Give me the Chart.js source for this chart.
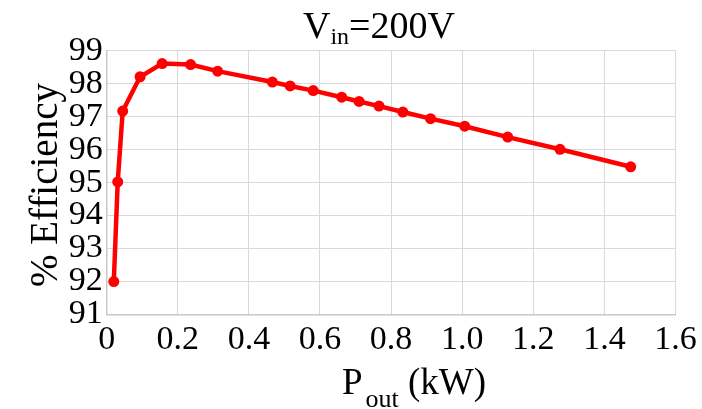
<!DOCTYPE html>
<html>
<head>
<meta charset="utf-8">
<script src="https://cdn.jsdelivr.net/npm/chart.js@4.4.1/dist/chart.umd.min.js"></script>
<style>
  html, body { margin: 0; padding: 0; background: #ffffff; }
  #wrap { width: 702px; height: 409px; position: relative; }
</style>
</head>
<body>
<div id="wrap"><canvas id="c" width="702" height="409"></canvas></div>
<script>
// Output power (kW)
const powerKW = [0.020, 0.031, 0.045, 0.094, 0.156, 0.236, 0.312, 0.466, 0.516, 0.581, 0.661, 0.710, 0.766, 0.833, 0.911, 1.007, 1.128, 1.275, 1.474];
// Efficiency (%)
const efficiency = [92.0, 95.02, 97.17, 98.21, 98.61, 98.58, 98.38, 98.05, 97.93, 97.79, 97.59, 97.46, 97.32, 97.14, 96.94, 96.71, 96.38, 96.01, 95.48];
// Tick labels
const xTickValues = [0, 0.2, 0.4, 0.6, 0.8, 1.0, 1.2, 1.4, 1.6];
const xTickLabels = ["0", "0.2", "0.4", "0.6", "0.8", "1.0", "1.2", "1.4", "1.6"];
const yTickValues = [91, 92, 93, 94, 95, 96, 97, 98, 99];
const yTickLabels = ["91", "92", "93", "94", "95", "96", "97", "98", "99"];
// Texts
const titleMain = "V", titleSub = "in", titleRest = "=200V";
const xTitleMain = "P", xTitleSub = "out", xTitleRest = " (kW)";
const yTitle = "% Efficiency";

const FONT = "'Liberation Serif', serif";
Chart.defaults.font.family = FONT;

function drawSub(ctx, parts, cx, baseline) {
  let total = 0;
  parts.forEach(p => { ctx.font = p.size + 'px ' + FONT; p.w = ctx.measureText(p.text).width; total += p.w + (p.gap || 0); });
  let x = cx - total / 2;
  ctx.textAlign = 'left';
  ctx.textBaseline = 'alphabetic';
  parts.forEach(p => {
    ctx.font = p.size + 'px ' + FONT;
    ctx.fillText(p.text, x, baseline + (p.dy || 0));
    x += p.w + (p.gap || 0);
  });
}

const textPlugin = {
  id: 'texts',
  afterDraw(chart) {
    const ctx = chart.ctx;
    ctx.save();
    ctx.fillStyle = '#000000';
    drawSub(ctx, [
      {text: titleMain, size: 38},
      {text: titleSub, size: 24, dy: 6},
      {text: titleRest, size: 38}
    ], 379, 37.5);
    drawSub(ctx, [
      {text: xTitleMain, size: 37, gap: 3},
      {text: xTitleSub, size: 26, dy: 13},
      {text: xTitleRest, size: 37}
    ], 414, 394.3);
    ctx.translate(57, 185);
    ctx.rotate(-Math.PI / 2);
    ctx.font = '39px ' + FONT;
    ctx.textAlign = 'center';
    ctx.textBaseline = 'alphabetic';
    ctx.fillText(yTitle, 0, 0);
    ctx.restore();
  }
};

const points = powerKW.map((p, i) => ({x: p, y: efficiency[i]}));

new Chart(document.getElementById('c'), {
  type: 'scatter',
  data: {
    datasets: [{
      data: points,
      showLine: true,
      borderColor: '#ff0000',
      backgroundColor: '#ff0000',
      borderWidth: 4.5,
      pointRadius: 5.5,
      pointHoverRadius: 5.5,
      pointBorderWidth: 0,
      tension: 0
    }]
  },
  options: {
    responsive: false,
    animation: false,
    devicePixelRatio: 1,
    layout: { padding: { left: 0, right: 26.5, top: 50.7, bottom: 0 } },
    plugins: { legend: { display: false }, tooltip: { enabled: false }, title: { display: false } },
    scales: {
      x: {
        type: 'linear',
        min: 0, max: 1.6,
        afterBuildTicks(s) { s.ticks = xTickValues.map(v => ({value: v})); },
        afterFit(s) { s.height = 94.5; },
        ticks: {
          color: '#000000',
          font: { family: FONT, size: 34 },
          padding: 5,
          maxRotation: 0,
          autoSkip: false,
          callback(v) { const i = xTickValues.findIndex(t => Math.abs(t - v) < 1e-6); return i >= 0 ? xTickLabels[i] : ''; }
        },
        grid: { color: '#d9d9d9', lineWidth: 1, drawTicks: false },
        border: { color: '#c8c8c8', width: 1.5 }
      },
      y: {
        type: 'linear',
        min: 91, max: 99,
        afterBuildTicks(s) { s.ticks = yTickValues.map(v => ({value: v})); },
        afterFit(s) { s.width = 106.7; },
        ticks: {
          color: '#000000',
          font: { family: FONT, size: 34 },
          padding: 4,
          autoSkip: false,
          callback(v) { const i = yTickValues.findIndex(t => Math.abs(t - v) < 1e-6); return i >= 0 ? yTickLabels[i] : ''; }
        },
        grid: { color: '#d9d9d9', lineWidth: 1, drawTicks: false },
        border: { color: '#c8c8c8', width: 1.5 }
      }
    }
  },
  plugins: [textPlugin]
});
</script>
</body>
</html>
